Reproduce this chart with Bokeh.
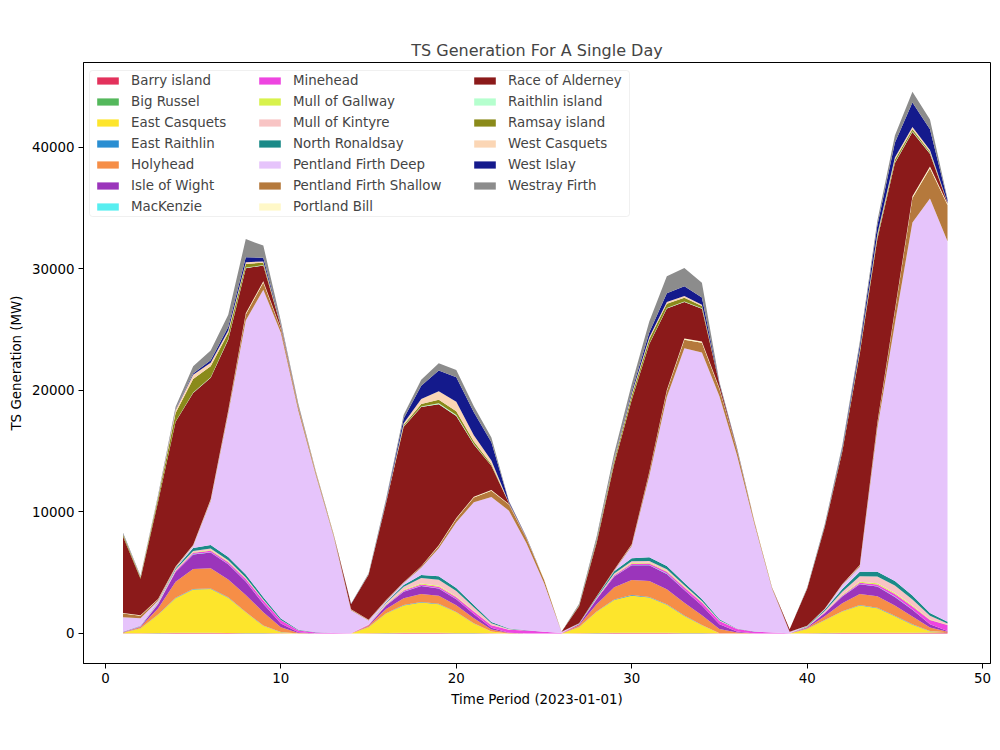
from bokeh.plotting import figure
from bokeh.models import (ColumnDataSource, Range1d, FixedTicker, Legend,
                          LegendItem, BoxAnnotation)
from bokeh.embed import file_html
from bokeh.resources import INLINE

# Half-hour settlement periods for the day
periods = list(range(1, 49))

# Generation per site (MW), one value per period
barry_island = [10, 10, 20, 30, 30, 30, 30, 20, 20, 10, 0, 0, 0,
                0, 10, 20, 30, 30, 30, 20, 20, 10, 0, 0, 0, 0,
                10, 20, 30, 30, 30, 30, 20, 20, 10, 0, 0, 0, 0,
                10, 20, 30, 30, 40, 40, 50, 70, 100]
big_russel = [0, 10, 20, 30, 30, 30, 20, 20, 10, 0, 0, 0, 0,
              0, 10, 20, 30, 30, 30, 20, 10, 0, 0, 0, 0, 0,
              10, 20, 30, 30, 30, 30, 20, 10, 0, 0, 0, 0, 0,
              10, 20, 30, 30, 30, 30, 20, 10, 0]
east_casquets = [50, 400, 1500, 2850, 3550, 3600, 2900, 1700, 600, 100, 0, 0, 0,
                 0, 500, 1600, 2250, 2500, 2350, 1700, 800, 150, 0, 0, 0, 0,
                 500, 1750, 2700, 3050, 2900, 2300, 1400, 650, 0, 0, 0, 0, 0,
                 350, 1050, 1750, 2250, 2000, 1350, 650, 100, 0]
east_raithlin = [0, 10, 20, 40, 50, 50, 40, 30, 20, 10, 0, 0, 0,
                 0, 10, 20, 30, 40, 40, 30, 20, 10, 0, 0, 0, 0,
                 10, 20, 40, 50, 50, 40, 30, 20, 10, 0, 0, 0, 0,
                 10, 20, 30, 40, 40, 40, 30, 20, 0]
holyhead = [30, 100, 500, 1300, 1650, 1650, 1450, 1400, 1100, 400, 50, 0, 0,
            0, 100, 350, 550, 650, 650, 550, 400, 150, 30, 0, 0, 0,
            150, 600, 1000, 1250, 1300, 1250, 1050, 800, 350, 80, 0, 0, 0,
            80, 300, 650, 900, 950, 850, 650, 300, 50]
isle_of_wight = [20, 50, 350, 800, 1200, 1300, 1250, 1100, 700, 300, 50, 0, 0,
                 0, 50, 300, 550, 650, 600, 500, 350, 150, 30, 0, 0, 0,
                 80, 400, 900, 1200, 1300, 1250, 1050, 800, 400, 80, 0, 0, 0,
                 50, 250, 550, 800, 800, 700, 550, 250, 50]
mackenzie = [0, 10, 10, 20, 30, 30, 30, 20, 10, 10, 0, 0, 0,
             0, 0, 10, 20, 30, 30, 20, 10, 0, 0, 0, 0, 0,
             0, 10, 20, 30, 30, 30, 20, 10, 0, 0, 0, 0, 0,
             0, 10, 20, 30, 30, 30, 20, 10, 0]
minehead = [10, 20, 50, 80, 100, 120, 150, 200, 250, 250, 150, 80, 30,
            20, 30, 50, 80, 100, 120, 150, 200, 200, 250, 250, 150, 50,
            30, 50, 80, 100, 120, 150, 200, 250, 250, 200, 150, 80, 20,
            30, 50, 70, 100, 150, 200, 250, 350, 500]
mull_of_gallway = [0, 10, 20, 40, 50, 60, 50, 40, 30, 10, 0, 0, 0,
                   0, 10, 30, 60, 80, 80, 60, 40, 20, 0, 0, 0, 0,
                   10, 20, 40, 60, 60, 60, 50, 30, 10, 0, 0, 0, 0,
                   10, 30, 60, 80, 100, 100, 80, 50, 20]
mull_of_kintyre = [10, 20, 50, 80, 100, 120, 100, 80, 50, 30, 10, 0, 0,
                   0, 30, 100, 250, 450, 500, 450, 300, 150, 50, 0, 0, 0,
                   20, 50, 100, 150, 150, 150, 120, 80, 50, 20, 0, 0, 0,
                   30, 100, 250, 450, 550, 600, 500, 300, 100]
north_ronaldsay = [10, 20, 50, 100, 250, 300, 280, 250, 200, 120, 50, 20, 0,
                   0, 20, 80, 150, 250, 280, 250, 200, 100, 50, 20, 0, 0,
                   30, 80, 180, 250, 300, 270, 220, 160, 100, 40, 10, 0, 0,
                   30, 100, 220, 380, 400, 380, 330, 230, 150]
pentland_firth_deep = [1200, 600, 100, 50, 150, 3600, 11800, 20900, 25300, 23500, 18000, 12900, 8000,
                       1900, 300, 100, 150, 600, 2300, 5400, 8450, 10300, 9700, 7150, 4000, 80,
                       0, 0, 50, 1000, 6700, 13900, 19300, 20300, 18350, 14250, 8800, 3600, 100,
                       0, 50, 300, 400, 11800, 21200, 30700, 34100, 31300]
pentland_firth_shallow = [300, 200, 100, 50, 50, 100, 200, 500, 600, 300, 250, 160, 120,
                          60, 50, 50, 50, 100, 200, 300, 400, 500, 500, 400, 300, 20,
                          0, 20, 50, 100, 300, 500, 700, 800, 600, 400, 200, 100, 30,
                          0, 20, 50, 100, 400, 1000, 2000, 2500, 3000]
portland_bill = [50, 50, 50, 50, 50, 50, 80, 100, 100, 50, 50, 40, 30,
                 20, 20, 20, 20, 30, 50, 50, 60, 60, 50, 40, 30, 0,
                 0, 20, 30, 40, 50, 80, 100, 100, 80, 60, 40, 20, 0,
                 20, 20, 50, 50, 80, 100, 150, 150, 100]
race_of_alderney = [6300, 3000, 8000, 11900, 12500, 10000, 5800, 3700, 1300, 200, 100, 50, 30,
                    400, 3700, 8000, 12800, 13100, 11600, 8400, 4300, 2000, 50, 20, 10, 0,
                    1400, 4400, 8700, 11900, 10500, 6700, 3000, 2700, 300, 50, 20, 10, 200,
                    3050, 6700, 10900, 17400, 15100, 12100, 5300, 1050, 50]
raithlin_island = [0, 0, 20, 30, 50, 50, 50, 50, 30, 10, 0, 0, 0,
                   0, 0, 10, 30, 50, 80, 80, 50, 30, 0, 0, 0, 0,
                   0, 20, 30, 40, 50, 50, 50, 30, 0, 0, 0, 0, 0,
                   0, 10, 20, 30, 50, 60, 60, 50, 10]
ramsay_island = [150, 100, 300, 700, 1100, 900, 500, 300, 200, 50, 30, 20, 10,
                 10, 20, 50, 100, 200, 300, 300, 200, 100, 20, 0, 0, 0,
                 50, 150, 250, 300, 350, 350, 300, 200, 20, 0, 0, 0, 0,
                 20, 50, 100, 150, 200, 200, 150, 100, 20]
west_casquets = [50, 50, 100, 250, 350, 300, 200, 150, 100, 50, 20, 10, 0,
                 0, 20, 50, 150, 400, 700, 800, 500, 300, 30, 0, 0, 0,
                 30, 50, 100, 150, 150, 150, 150, 100, 10, 10, 0, 0, 0,
                 20, 30, 50, 100, 150, 200, 200, 150, 20]
west_islay = [30, 20, 30, 50, 100, 200, 300, 400, 300, 100, 50, 20, 10,
              10, 20, 100, 400, 1100, 1700, 2000, 1900, 1500, 100, 50, 0, 0,
              20, 50, 100, 200, 400, 700, 800, 600, 50, 30, 0, 0, 0,
              20, 50, 150, 400, 700, 1200, 2000, 1700, 200]
westray_firth = [100, 80, 100, 200, 600, 800, 1000, 1500, 1000, 200, 80, 30, 10,
                 20, 50, 150, 300, 500, 600, 600, 500, 400, 50, 20, 0, 0,
                 100, 250, 400, 600, 900, 1400, 1500, 1200, 100, 80, 0, 0, 0,
                 50, 100, 200, 300, 400, 600, 900, 800, 100]

sites = [
    ("Barry island", barry_island, "#e3325c"),
    ("Big Russel", big_russel, "#54b85c"),
    ("East Casquets", east_casquets, "#fde52c"),
    ("East Raithlin", east_raithlin, "#2a8ed2"),
    ("Holyhead", holyhead, "#f68e47"),
    ("Isle of Wight", isle_of_wight, "#9b35bb"),
    ("MacKenzie", mackenzie, "#58eef0"),
    ("Minehead", minehead, "#ee45e0"),
    ("Mull of Gallway", mull_of_gallway, "#d8f24c"),
    ("Mull of Kintyre", mull_of_kintyre, "#f8c4c4"),
    ("North Ronaldsay", north_ronaldsay, "#1a8a88"),
    ("Pentland Firth Deep", pentland_firth_deep, "#e6c4fb"),
    ("Pentland Firth Shallow", pentland_firth_shallow, "#b5793c"),
    ("Portland Bill", portland_bill, "#fff8c8"),
    ("Race of Alderney", race_of_alderney, "#8b1a1a"),
    ("Raithlin island", raithlin_island, "#b5ffce"),
    ("Ramsay island", ramsay_island, "#8a8a1a"),
    ("West Casquets", west_casquets, "#fbd6b5"),
    ("West Islay", west_islay, "#141a8c"),
    ("Westray Firth", westray_firth, "#8c8c8c"),
]

names = [s[0] for s in sites]
colors = [s[2] for s in sites]
data = {"period": periods}
for name, vals, _ in sites:
    data[name] = vals
source = ColumnDataSource(data)

# Frame geometry (pixels) and axis ranges
W, H = 1000, 750
FL, FR, FT, FB = 83, 990, 62, 663
X0, X1 = -1.25, 50.45
Y0, Y1 = -2470, 46990

p = figure(width=W, height=H,
           x_range=Range1d(X0, X1), y_range=Range1d(Y0, Y1),
           output_backend="svg", toolbar_location=None,
           min_border_left=FL, min_border_right=W - FR,
           min_border_top=FT, min_border_bottom=H - FB,
           title="TS Generation For A Single Day")

areas = p.varea_stack(stackers=names, x="period", color=colors, source=source)

FONT = "DejaVu Sans"
p.title.text_font = FONT
p.title.text_font_size = "16px"
p.title.text_font_style = "normal"
p.title.align = "center"
p.title.standoff = 5

p.xgrid.visible = False
p.ygrid.visible = False
p.outline_line_color = "black"
p.outline_line_width = 1

p.xaxis.ticker = FixedTicker(ticks=[0, 10, 20, 30, 40, 50])
p.yaxis.ticker = FixedTicker(ticks=[0, 10000, 20000, 30000, 40000])
for ax in (p.xaxis[0], p.yaxis[0]):
    ax.major_label_text_font = FONT
    ax.major_label_text_font_size = "13.4px"
    ax.major_label_text_color = "black"
    ax.axis_label_text_font = FONT
    ax.axis_label_text_font_size = "13.4px"
    ax.axis_label_text_font_style = "normal"
    ax.axis_label_text_color = "black"
    ax.major_tick_out = 5
    ax.major_tick_in = 0
    ax.minor_tick_out = 0
    ax.minor_tick_in = 0
    ax.axis_line_color = "black"
    ax.major_tick_line_color = "black"
    ax.major_label_standoff = 4

p.xaxis.axis_label = "Time Period (2023-01-01)"
p.yaxis.axis_label = "TS Generation (MW)"
p.xaxis.axis_label_standoff = 6
p.yaxis.axis_label_standoff = 5


def to_x(px):
    return X0 + (px - FL) * (X1 - X0) / (FR - FL)


def to_y(py):
    return Y1 - (py - FT) * (Y1 - Y0) / (FB - FT)


# Legend frame shared by the three legend columns
p.add_layout(BoxAnnotation(left=to_x(89), right=to_x(629),
                           top=to_y(70), bottom=to_y(216),
                           fill_color="white", fill_alpha=0.8,
                           line_color="#cccccc", line_width=1,
                           border_radius=3))

ROW_H, ROW_GAP = 17, 4
FIRST_ROW_TOP = 71.5
columns = [(0, 7, 94), (7, 14, 256), (14, 20, 471)]
for start, stop, patch_left in columns:
    n = stop - start
    leg_h = n * ROW_H + (n - 1) * ROW_GAP
    items = [LegendItem(label=names[i], renderers=[areas[i]])
             for i in range(start, stop)]
    leg = Legend(items=items,
                 location=(patch_left - FL, (FB - FT) - (FIRST_ROW_TOP - FT) - leg_h),
                 orientation="vertical",
                 margin=0, padding=0, spacing=ROW_GAP,
                 label_height=ROW_H, glyph_width=27, glyph_height=9,
                 label_standoff=10,
                 label_text_font=FONT, label_text_font_size="13.4px",
                 border_line_color=None, background_fill_alpha=0)
    p.add_layout(leg, "center")

open("out.html", "w").write(file_html(p, INLINE))
